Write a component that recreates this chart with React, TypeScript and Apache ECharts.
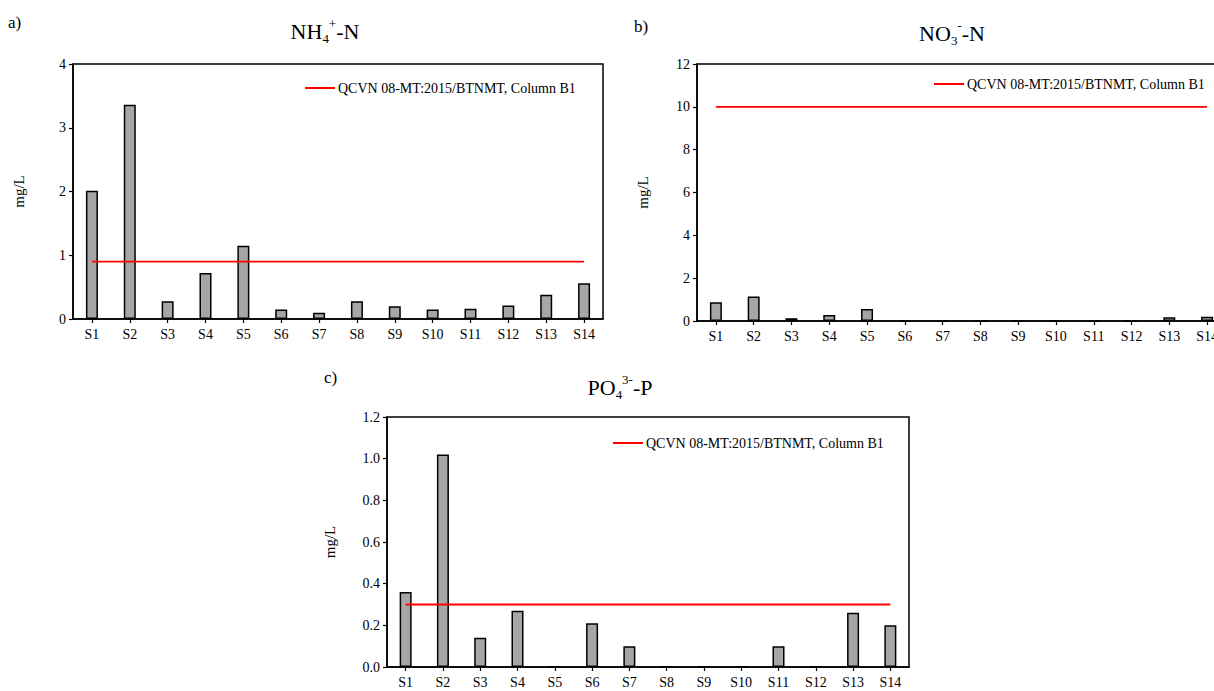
import React, { useEffect, useRef } from "react";
import * as echarts from "echarts";

const SITES = ["S1", "S2", "S3", "S4", "S5", "S6", "S7", "S8", "S9", "S10", "S11", "S12", "S13", "S14"];
const NH4_VALUES = [2.01, 3.36, 0.28, 0.72, 1.15, 0.15, 0.1, 0.28, 0.2, 0.15, 0.16, 0.21, 0.38, 0.56];
const NO3_VALUES = [0.88, 1.14, 0.13, 0.28, 0.56, 0, 0, 0, 0, 0, 0, 0, 0.17, 0.2];
const PO4_VALUES = [0.36, 1.02, 0.14, 0.27, 0, 0.21, 0.1, 0, 0, 0, 0.1, 0, 0.26, 0.2];
const LIMIT_NAME = "QCVN 08-MT:2015/BTNMT, Column B1";
const NH4_LIMIT = 0.9;
const NO3_LIMIT = 10;
const PO4_LIMIT = 0.3;
const NH4_TICKS = { min: 0, max: 4, interval: 1 };
const NO3_TICKS = { min: 0, max: 12, interval: 2 };
const PO4_TICKS = { min: 0, max: 1.2, interval: 0.2 };

const FONT = "Liberation Serif";

export default function App() {
  const ref = useRef<HTMLDivElement>(null);
  useEffect(() => {
    if (!ref.current) return;
    const chart = echarts.init(ref.current, undefined, { renderer: "svg" });

    const grids = [
      { left: 73, top: 64, width: 530, height: 255 },
      { left: 697, top: 64, width: 529, height: 257 },
      { left: 387, top: 417, width: 522, height: 250 },
    ];
    const ticks = [NH4_TICKS, NO3_TICKS, PO4_TICKS];
    const values = [NH4_VALUES, NO3_VALUES, PO4_VALUES];
    const limits = [NH4_LIMIT, NO3_LIMIT, PO4_LIMIT];
    const nameGaps = [47, 47, 50];

    const axisLine = { show: true, lineStyle: { color: "#000", width: 1.5 } };
    const tickStyle = { show: true, length: 4, lineStyle: { color: "#000", width: 1.2 } };

    const xAxes = grids.map((_, i) => ({
      type: "category",
      gridIndex: i,
      data: SITES,
      boundaryGap: true,
      axisLine,
      axisTick: { ...tickStyle, alignWithLabel: true, inside: false },
      axisLabel: { color: "#000", fontFamily: FONT, fontSize: 14, margin: 8, interval: 0 },
      splitLine: { show: false },
    }));
    const yAxes = grids.map((_, i) => ({
      type: "value",
      gridIndex: i,
      min: ticks[i].min,
      max: ticks[i].max,
      interval: ticks[i].interval,
      name: "mg/L",
      nameLocation: "middle",
      nameGap: nameGaps[i],
      nameTextStyle: { color: "#000", fontFamily: FONT, fontSize: 15 },
      axisLine,
      axisTick: tickStyle,
      axisLabel: {
        color: "#000",
        fontFamily: FONT,
        fontSize: 14,
        margin: 7,
        formatter: (v: number) => (i === 2 ? v.toFixed(1) : String(v)),
      },
      splitLine: { show: false },
    }));

    const series: any[] = [];
    values.forEach((vals, i) => {
      series.push({
        type: "bar",
        name: "data" + i,
        xAxisIndex: i,
        yAxisIndex: i,
        data: vals,
        barWidth: 12,
        itemStyle: { color: "#a6a6a6", borderColor: "#000", borderWidth: 1.5 },
      });
      series.push({
        type: "line",
        name: LIMIT_NAME,
        xAxisIndex: i,
        yAxisIndex: i,
        data: [
          [SITES[0], limits[i]],
          [SITES[SITES.length - 1], limits[i]],
        ],
        symbol: "none",
        lineStyle: { color: "#ff0000", width: 1.8 },
        itemStyle: { color: "#ff0000" },
        z: 5,
      });
    });

    const legendPos = [
      { left: 300, top: 76 },
      { left: 929, top: 72 },
      { left: 608, top: 431 },
    ];
    const legends = legendPos.map((p) => ({
      ...p,
      data: [{ name: LIMIT_NAME, icon: "rect" }],
      itemWidth: 30,
      itemHeight: 2,
      selectedMode: false,
      textStyle: { color: "#000", fontFamily: FONT, fontSize: 14, padding: [0, 0, 0, -2] },
    }));

    const rich = {
      n: { fontFamily: FONT, fontSize: 22, color: "#000", lineHeight: 28 },
      sub: { fontFamily: FONT, fontSize: 13, color: "#000", lineHeight: 12, verticalAlign: "bottom" },
      sup: { fontFamily: FONT, fontSize: 13, color: "#000", lineHeight: 18, verticalAlign: "top" },
    };
    const titleText = (x: number, y: number, text: string) => ({
      type: "text",
      x,
      y,
      style: { text, rich, align: "center", verticalAlign: "middle" },
    });
    const panelLabel = (x: number, y: number, text: string) => ({
      type: "text",
      x,
      y,
      style: { text, fontFamily: FONT, fontSize: 17, fill: "#000", align: "left", verticalAlign: "middle" },
    });

    chart.setOption({
      animation: false,
      backgroundColor: "#fff",
      textStyle: { fontFamily: FONT },
      grid: grids.map((g) => ({ ...g, show: true, borderColor: "#000", borderWidth: 1.5, backgroundColor: "transparent" })),
      xAxis: xAxes,
      yAxis: yAxes,
      legend: legends,
      series,
      graphic: [
        titleText(325, 31, "{n|NH}{sub|4}{sup|+}{n|-N}"),
        titleText(952, 33, "{n|NO}{sub|3}{sup|-}{n|-N}"),
        titleText(620, 387, "{n|PO}{sub|4}{sup|3-}{n|-P}"),
        panelLabel(8, 22, "a)"),
        panelLabel(634, 26, "b)"),
        panelLabel(324, 377, "c)"),
      ],
    });
    return () => chart.dispose();
  }, []);
  return (
    <div style={{ position: "absolute", left: 0, top: 0, width: 1214, height: 691, overflow: "hidden", background: "#fff" }}>
      <div ref={ref} style={{ width: 1250, height: 691 }} />
    </div>
  );
}
